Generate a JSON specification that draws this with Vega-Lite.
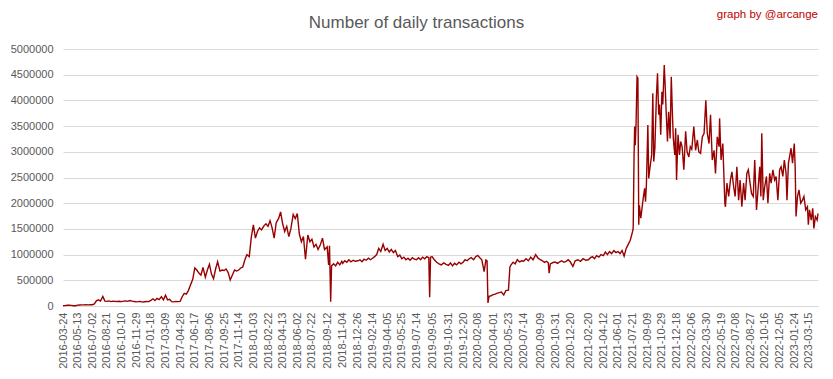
{
"$schema": "https://vega.github.io/schema/vega-lite/v6.json",
"width": 755, "height": 257,
"autosize": {"type": "none"},
"padding": {"left": 63, "top": 49, "right": 15, "bottom": 73},
"background": "white",
"title": {"text": "Number of daily transactions", "anchor": "middle", "dx": -24, "offset": -23, "font": "Liberation Sans", "fontSize": 17, "fontWeight": "normal", "color": "#595959"},
"config": {"view": {"stroke": null}},
"layer": [
{
"data": {"values": [
{"date":"2016-03-24","v":5000},{"date":"2016-03-31","v":8000},{"date":"2016-04-07","v":15000},{"date":"2016-04-14","v":16000},{"date":"2016-04-21","v":12000},{"date":"2016-04-29","v":4000},{"date":"2016-05-06","v":6000},
{"date":"2016-05-13","v":18000},{"date":"2016-05-20","v":20000},{"date":"2016-05-27","v":22000},{"date":"2016-06-03","v":21000},{"date":"2016-06-10","v":23000},{"date":"2016-06-18","v":22000},{"date":"2016-06-25","v":24000},
{"date":"2016-07-02","v":25000},{"date":"2016-07-09","v":40000},{"date":"2016-07-16","v":100000},{"date":"2016-07-23","v":120000},{"date":"2016-07-30","v":95000},{"date":"2016-08-07","v":185000},{"date":"2016-08-14","v":95000},
{"date":"2016-08-21","v":90000},{"date":"2016-08-28","v":100000},{"date":"2016-09-04","v":85000},{"date":"2016-09-11","v":95000},{"date":"2016-09-18","v":90000},{"date":"2016-09-26","v":88000},{"date":"2016-10-03","v":92000},
{"date":"2016-10-10","v":85000},{"date":"2016-10-17","v":95000},{"date":"2016-10-24","v":100000},{"date":"2016-10-31","v":90000},{"date":"2016-11-07","v":105000},{"date":"2016-11-15","v":95000},{"date":"2016-11-22","v":88000},
{"date":"2016-11-29","v":80000},{"date":"2016-12-06","v":85000},{"date":"2016-12-13","v":90000},{"date":"2016-12-20","v":75000},{"date":"2016-12-27","v":82000},{"date":"2017-01-04","v":88000},{"date":"2017-01-11","v":85000},
{"date":"2017-01-18","v":110000},{"date":"2017-01-25","v":140000},{"date":"2017-02-01","v":105000},{"date":"2017-02-08","v":150000},{"date":"2017-02-15","v":125000},{"date":"2017-02-23","v":180000},{"date":"2017-03-02","v":120000},
{"date":"2017-03-09","v":210000},{"date":"2017-03-16","v":120000},{"date":"2017-03-23","v":130000},{"date":"2017-03-30","v":85000},{"date":"2017-04-06","v":80000},{"date":"2017-04-14","v":90000},{"date":"2017-04-21","v":85000},
{"date":"2017-04-28","v":90000},{"date":"2017-05-05","v":180000},{"date":"2017-05-12","v":245000},{"date":"2017-05-19","v":230000},{"date":"2017-05-26","v":300000},{"date":"2017-06-03","v":420000},{"date":"2017-06-10","v":520000},
{"date":"2017-06-17","v":740000},{"date":"2017-06-24","v":700000},{"date":"2017-07-01","v":640000},{"date":"2017-07-08","v":600000},{"date":"2017-07-15","v":750000},{"date":"2017-07-23","v":560000},{"date":"2017-07-30","v":700000},
{"date":"2017-08-06","v":810000},{"date":"2017-08-13","v":620000},{"date":"2017-08-20","v":530000},{"date":"2017-08-27","v":720000},{"date":"2017-09-03","v":860000},{"date":"2017-09-11","v":680000},{"date":"2017-09-18","v":700000},
{"date":"2017-09-25","v":690000},{"date":"2017-10-02","v":720000},{"date":"2017-10-09","v":650000},{"date":"2017-10-16","v":506000},{"date":"2017-10-23","v":600000},{"date":"2017-10-31","v":700000},{"date":"2017-11-07","v":680000},
{"date":"2017-11-14","v":700000},{"date":"2017-11-21","v":740000},{"date":"2017-11-28","v":760000},{"date":"2017-12-05","v":900000},{"date":"2017-12-12","v":1000000},{"date":"2017-12-20","v":960000},{"date":"2017-12-27","v":1340000},
{"date":"2018-01-03","v":1580000},{"date":"2018-01-10","v":1320000},{"date":"2018-01-17","v":1450000},{"date":"2018-01-24","v":1520000},{"date":"2018-01-31","v":1480000},{"date":"2018-02-08","v":1560000},{"date":"2018-02-15","v":1600000},
{"date":"2018-02-22","v":1550000},{"date":"2018-03-01","v":1660000},{"date":"2018-03-08","v":1520000},{"date":"2018-03-15","v":1320000},{"date":"2018-03-22","v":1620000},{"date":"2018-03-30","v":1700000},{"date":"2018-04-06","v":1830000},
{"date":"2018-04-13","v":1600000},{"date":"2018-04-20","v":1450000},{"date":"2018-04-27","v":1550000},{"date":"2018-05-04","v":1350000},{"date":"2018-05-11","v":1500000},{"date":"2018-05-19","v":1780000},{"date":"2018-05-26","v":1700000},
{"date":"2018-06-02","v":1800000},{"date":"2018-06-09","v":1400000},{"date":"2018-06-16","v":1250000},{"date":"2018-06-23","v":1350000},{"date":"2018-06-30","v":910000},{"date":"2018-07-08","v":1380000},{"date":"2018-07-15","v":1250000},
{"date":"2018-07-22","v":1300000},{"date":"2018-07-29","v":1150000},{"date":"2018-08-05","v":1200000},{"date":"2018-08-12","v":1100000},{"date":"2018-08-19","v":1180000},{"date":"2018-08-27","v":1320000},{"date":"2018-09-03","v":1100000},
{"date":"2018-09-12","v":1150000},{"date":"2018-09-17","v":800000},{"date":"2018-09-20","v":1170000},{"date":"2018-09-24","v":84000},{"date":"2018-09-27","v":780000},{"date":"2018-10-04","v":820000},{"date":"2018-10-11","v":780000},{"date":"2018-10-18","v":850000},{"date":"2018-10-25","v":800000},{"date":"2018-11-01","v":870000},
{"date":"2018-11-04","v":830000},{"date":"2018-11-11","v":880000},{"date":"2018-11-18","v":850000},{"date":"2018-11-25","v":900000},{"date":"2018-12-02","v":860000},{"date":"2018-12-10","v":890000},{"date":"2018-12-17","v":870000},
{"date":"2018-12-26","v":880000},{"date":"2019-01-02","v":900000},{"date":"2019-01-09","v":860000},{"date":"2019-01-16","v":910000},{"date":"2019-01-23","v":890000},{"date":"2019-01-31","v":930000},{"date":"2019-02-07","v":900000},
{"date":"2019-02-14","v":930000},{"date":"2019-02-21","v":960000},{"date":"2019-02-28","v":1000000},{"date":"2019-03-07","v":1120000},{"date":"2019-03-14","v":1060000},{"date":"2019-03-22","v":1200000},{"date":"2019-03-29","v":1080000},
{"date":"2019-04-05","v":1120000},{"date":"2019-04-12","v":1050000},{"date":"2019-04-19","v":1100000},{"date":"2019-04-26","v":1040000},{"date":"2019-05-03","v":1080000},{"date":"2019-05-11","v":960000},{"date":"2019-05-18","v":990000},
{"date":"2019-05-25","v":920000},{"date":"2019-06-01","v":950000},{"date":"2019-06-08","v":900000},{"date":"2019-06-15","v":930000},{"date":"2019-06-22","v":890000},{"date":"2019-06-30","v":940000},{"date":"2019-07-07","v":910000},
{"date":"2019-07-14","v":900000},{"date":"2019-07-21","v":940000},{"date":"2019-07-28","v":900000},{"date":"2019-08-04","v":950000},{"date":"2019-08-11","v":920000},{"date":"2019-08-18","v":960000},{"date":"2019-08-25","v":940000},{"date":"2019-08-28","v":170000},{"date":"2019-08-31","v":950000},
{"date":"2019-09-05","v":960000},{"date":"2019-09-13","v":900000},{"date":"2019-09-21","v":850000},{"date":"2019-09-29","v":820000},{"date":"2019-10-07","v":800000},{"date":"2019-10-15","v":840000},{"date":"2019-10-23","v":810000},
{"date":"2019-10-31","v":790000},{"date":"2019-11-07","v":840000},{"date":"2019-11-14","v":780000},{"date":"2019-11-21","v":830000},{"date":"2019-11-28","v":800000},{"date":"2019-12-06","v":850000},{"date":"2019-12-13","v":820000},
{"date":"2019-12-20","v":850000},{"date":"2019-12-27","v":900000},{"date":"2020-01-03","v":880000},{"date":"2020-01-10","v":920000},{"date":"2020-01-17","v":940000},{"date":"2020-01-25","v":900000},{"date":"2020-02-01","v":960000},
{"date":"2020-02-08","v":985000},{"date":"2020-02-15","v":940000},{"date":"2020-02-22","v":900000},{"date":"2020-03-01","v":670000},{"date":"2020-03-07","v":895000},{"date":"2020-03-11","v":880000},{"date":"2020-03-14","v":60000},{"date":"2020-03-18","v":190000},{"date":"2020-03-25","v":200000},
{"date":"2020-04-01","v":220000},{"date":"2020-04-08","v":230000},{"date":"2020-04-15","v":250000},{"date":"2020-04-22","v":260000},{"date":"2020-04-29","v":270000},{"date":"2020-05-07","v":215000},{"date":"2020-05-14","v":300000},
{"date":"2020-05-23","v":310000},{"date":"2020-05-28","v":760000},{"date":"2020-06-01","v":800000},{"date":"2020-06-08","v":850000},{"date":"2020-06-15","v":820000},{"date":"2020-06-22","v":900000},{"date":"2020-06-30","v":860000},{"date":"2020-07-07","v":880000},
{"date":"2020-07-14","v":870000},{"date":"2020-07-22","v":920000},{"date":"2020-07-30","v":880000},{"date":"2020-08-07","v":950000},{"date":"2020-08-15","v":900000},{"date":"2020-08-24","v":1000000},{"date":"2020-09-01","v":930000},
{"date":"2020-09-09","v":900000},{"date":"2020-09-16","v":880000},{"date":"2020-09-23","v":850000},{"date":"2020-09-30","v":870000},{"date":"2020-10-06","v":840000},{"date":"2020-10-09","v":640000},{"date":"2020-10-13","v":820000},{"date":"2020-10-24","v":850000},
{"date":"2020-10-31","v":850000},{"date":"2020-11-07","v":830000},{"date":"2020-11-14","v":860000},{"date":"2020-11-21","v":880000},{"date":"2020-11-28","v":850000},{"date":"2020-12-06","v":870000},{"date":"2020-12-13","v":900000},
{"date":"2020-12-20","v":860000},{"date":"2020-12-29","v":770000},{"date":"2021-01-06","v":880000},{"date":"2021-01-15","v":900000},{"date":"2021-01-24","v":870000},{"date":"2021-02-02","v":920000},{"date":"2021-02-11","v":890000},
{"date":"2021-02-20","v":900000},{"date":"2021-02-27","v":940000},{"date":"2021-03-06","v":960000},{"date":"2021-03-13","v":920000},{"date":"2021-03-20","v":980000},{"date":"2021-03-28","v":950000},{"date":"2021-04-04","v":1000000},
{"date":"2021-04-12","v":980000},{"date":"2021-04-19","v":1050000},{"date":"2021-04-26","v":1000000},{"date":"2021-05-03","v":1060000},{"date":"2021-05-10","v":1020000},{"date":"2021-05-18","v":1080000},{"date":"2021-05-25","v":1040000},
{"date":"2021-06-01","v":1060000},{"date":"2021-06-08","v":1020000},{"date":"2021-06-15","v":1080000},{"date":"2021-06-22","v":970000},{"date":"2021-06-29","v":1120000},{"date":"2021-07-06","v":1200000},{"date":"2021-07-13","v":1280000},
{"date":"2021-07-21","v":1450000},{"date":"2021-07-23","v":1520000},{"date":"2021-07-26","v":2940000},{"date":"2021-07-28","v":3490000},{"date":"2021-07-30","v":3130000},{"date":"2021-08-02","v":3590000},{"date":"2021-08-05","v":4460000},{"date":"2021-08-08","v":4430000},{"date":"2021-08-11","v":1580000},{"date":"2021-08-13","v":1960000},{"date":"2021-08-18","v":1710000},{"date":"2021-08-22","v":1900000},{"date":"2021-08-26","v":2090000},{"date":"2021-08-31","v":2290000},{"date":"2021-09-03","v":2030000},{"date":"2021-09-06","v":2350000},
{"date":"2021-09-11","v":3520000},{"date":"2021-09-14","v":2480000},{"date":"2021-09-18","v":2680000},{"date":"2021-09-24","v":2940000},{"date":"2021-09-28","v":4140000},{"date":"2021-10-01","v":2810000},{"date":"2021-10-05","v":3070000},{"date":"2021-10-10","v":4040000},{"date":"2021-10-14","v":4530000},{"date":"2021-10-18","v":3720000},{"date":"2021-10-21","v":3920000},{"date":"2021-10-25","v":3330000},
{"date":"2021-10-29","v":4170000},{"date":"2021-11-01","v":3920000},{"date":"2021-11-06","v":4690000},{"date":"2021-11-09","v":4300000},{"date":"2021-11-13","v":3720000},{"date":"2021-11-17","v":3200000},{"date":"2021-11-21","v":3780000},{"date":"2021-11-26","v":3260000},{"date":"2021-11-30","v":4460000},{"date":"2021-12-04","v":3720000},{"date":"2021-12-07","v":3260000},{"date":"2021-12-12","v":2940000},{"date":"2021-12-15","v":3460000},
{"date":"2021-12-18","v":2450000},{"date":"2021-12-23","v":3330000},{"date":"2021-12-28","v":2940000},{"date":"2022-01-01","v":3200000},{"date":"2022-01-06","v":3100000},{"date":"2022-01-12","v":2650000},{"date":"2022-01-18","v":3400000},{"date":"2022-01-23","v":3000000},{"date":"2022-01-29","v":2900000},{"date":"2022-02-03","v":3100000},
{"date":"2022-02-08","v":3050000},{"date":"2022-02-15","v":3490000},{"date":"2022-02-21","v":3030000},{"date":"2022-02-27","v":3230000},{"date":"2022-03-04","v":3000000},{"date":"2022-03-10","v":2970000},{"date":"2022-03-16","v":3290000},{"date":"2022-03-22","v":3360000},{"date":"2022-03-28","v":4000000},
{"date":"2022-04-02","v":3360000},{"date":"2022-04-08","v":3160000},{"date":"2022-04-13","v":3720000},{"date":"2022-04-19","v":2840000},{"date":"2022-04-25","v":3030000},{"date":"2022-04-30","v":2580000},{"date":"2022-05-06","v":3290000},{"date":"2022-05-12","v":3100000},{"date":"2022-05-14","v":3650000},
{"date":"2022-05-19","v":2840000},{"date":"2022-05-25","v":3160000},{"date":"2022-05-28","v":2650000},{"date":"2022-06-01","v":2000000},{"date":"2022-06-03","v":1930000},{"date":"2022-06-08","v":2390000},{"date":"2022-06-14","v":2130000},{"date":"2022-06-20","v":2450000},{"date":"2022-06-25","v":2610000},{"date":"2022-07-01","v":2320000},{"date":"2022-07-06","v":2130000},
{"date":"2022-07-12","v":2710000},{"date":"2022-07-18","v":2060000},{"date":"2022-07-23","v":2450000},{"date":"2022-07-29","v":1930000},{"date":"2022-08-04","v":2390000},{"date":"2022-08-09","v":2060000},{"date":"2022-08-15","v":2580000},{"date":"2022-08-20","v":2650000},{"date":"2022-08-26","v":2390000},
{"date":"2022-08-31","v":2190000},{"date":"2022-09-06","v":2130000},{"date":"2022-09-11","v":2840000},{"date":"2022-09-17","v":1870000},{"date":"2022-09-23","v":2320000},{"date":"2022-09-28","v":2710000},{"date":"2022-10-02","v":2130000},{"date":"2022-10-05","v":3360000},{"date":"2022-10-10","v":2060000},{"date":"2022-10-15","v":2320000},
{"date":"2022-10-21","v":2520000},{"date":"2022-10-26","v":2000000},{"date":"2022-11-01","v":2580000},{"date":"2022-11-06","v":2390000},{"date":"2022-11-12","v":2650000},{"date":"2022-11-18","v":2450000},{"date":"2022-11-23","v":2520000},{"date":"2022-11-29","v":2060000},
{"date":"2022-12-05","v":2650000},{"date":"2022-12-10","v":2710000},{"date":"2022-12-16","v":2520000},{"date":"2022-12-21","v":2840000},{"date":"2022-12-27","v":2580000},{"date":"2022-12-30","v":2060000},{"date":"2023-01-04","v":2780000},{"date":"2023-01-07","v":2870000},{"date":"2023-01-13","v":3070000},{"date":"2023-01-18","v":2780000},
{"date":"2023-01-24","v":3160000},{"date":"2023-01-27","v":2710000},{"date":"2023-01-30","v":1740000},{"date":"2023-02-04","v":2130000},{"date":"2023-02-09","v":2260000},{"date":"2023-02-15","v":2000000},{"date":"2023-02-21","v":2060000},{"date":"2023-02-26","v":2130000},{"date":"2023-03-04","v":1870000},{"date":"2023-03-10","v":1930000},
{"date":"2023-03-13","v":1580000},{"date":"2023-03-17","v":1870000},{"date":"2023-03-23","v":1670000},{"date":"2023-03-28","v":1900000},{"date":"2023-04-01","v":1510000},{"date":"2023-04-06","v":1740000},{"date":"2023-04-12","v":1670000},{"date":"2023-04-15","v":1800000}
]},
"mark": {"type": "line", "color": "#990000", "strokeWidth": 1.4},
"encoding": {
"x": {"field": "date", "type": "temporal",
 "scale": {"type": "utc", "domain": [{"year":2016,"month":3,"date":24,"utc":true},{"year":2023,"month":4,"date":15,"utc":true}]},
 "axis": {"title": null, "grid": false, "ticks": false, "domain": true, "domainColor": "#D9D9D9", "labelAngle": 270, "labelFont": "Liberation Sans", "labelFontSize": 11, "labelColor": "#595959", "labelPadding": 6, "labelOverlap": false, "labelFlush": false, "labelBound": false, "format": "%Y-%m-%d", "tickCount": 100,
 "values": [
 {"year":2016,"month":3,"date":24,"utc":true},{"year":2016,"month":5,"date":13,"utc":true},{"year":2016,"month":7,"date":2,"utc":true},{"year":2016,"month":8,"date":21,"utc":true},{"year":2016,"month":10,"date":10,"utc":true},{"year":2016,"month":11,"date":29,"utc":true},
 {"year":2017,"month":1,"date":18,"utc":true},{"year":2017,"month":3,"date":9,"utc":true},{"year":2017,"month":4,"date":28,"utc":true},{"year":2017,"month":6,"date":17,"utc":true},{"year":2017,"month":8,"date":6,"utc":true},{"year":2017,"month":9,"date":25,"utc":true},{"year":2017,"month":11,"date":14,"utc":true},
 {"year":2018,"month":1,"date":3,"utc":true},{"year":2018,"month":2,"date":22,"utc":true},{"year":2018,"month":4,"date":13,"utc":true},{"year":2018,"month":6,"date":2,"utc":true},{"year":2018,"month":7,"date":22,"utc":true},{"year":2018,"month":9,"date":12,"utc":true},{"year":2018,"month":11,"date":4,"utc":true},{"year":2018,"month":12,"date":26,"utc":true},
 {"year":2019,"month":2,"date":14,"utc":true},{"year":2019,"month":4,"date":5,"utc":true},{"year":2019,"month":5,"date":25,"utc":true},{"year":2019,"month":7,"date":14,"utc":true},{"year":2019,"month":9,"date":5,"utc":true},{"year":2019,"month":10,"date":31,"utc":true},{"year":2019,"month":12,"date":20,"utc":true},
 {"year":2020,"month":2,"date":8,"utc":true},{"year":2020,"month":4,"date":1,"utc":true},{"year":2020,"month":5,"date":23,"utc":true},{"year":2020,"month":7,"date":14,"utc":true},{"year":2020,"month":9,"date":9,"utc":true},{"year":2020,"month":10,"date":31,"utc":true},{"year":2020,"month":12,"date":20,"utc":true},
 {"year":2021,"month":2,"date":20,"utc":true},{"year":2021,"month":4,"date":12,"utc":true},{"year":2021,"month":6,"date":1,"utc":true},{"year":2021,"month":7,"date":21,"utc":true},{"year":2021,"month":9,"date":9,"utc":true},{"year":2021,"month":10,"date":29,"utc":true},{"year":2021,"month":12,"date":18,"utc":true},
 {"year":2022,"month":2,"date":6,"utc":true},{"year":2022,"month":3,"date":30,"utc":true},{"year":2022,"month":5,"date":19,"utc":true},{"year":2022,"month":7,"date":8,"utc":true},{"year":2022,"month":8,"date":27,"utc":true},{"year":2022,"month":10,"date":16,"utc":true},{"year":2022,"month":12,"date":5,"utc":true},
 {"year":2023,"month":1,"date":24,"utc":true},{"year":2023,"month":3,"date":15,"utc":true}
 ]}},
"y": {"field": "v", "type": "quantitative",
 "scale": {"domain": [0, 5000000], "nice": false},
 "axis": {"title": null, "values": [0,500000,1000000,1500000,2000000,2500000,3000000,3500000,4000000,4500000,5000000], "tickCount": 20, "format": "d", "domain": false, "ticks": false, "grid": true, "gridColor": "#D9D9D9", "gridWidth": 1, "labelFont": "Liberation Sans", "labelFontSize": 11, "labelColor": "#595959", "labelPadding": 10}}
}
},
{
"data": {"values": [{}]},
"mark": {"type": "text", "align": "right", "baseline": "middle", "color": "#C00000", "font": "Liberation Sans", "fontSize": 11.5},
"encoding": {
"x": {"datum": {"year":2023,"month":4,"date":15,"utc":true}, "type": "temporal"},
"y": {"datum": 5660000, "type": "quantitative"},
"text": {"value": "graph by @arcange"}
}
}
]
}
